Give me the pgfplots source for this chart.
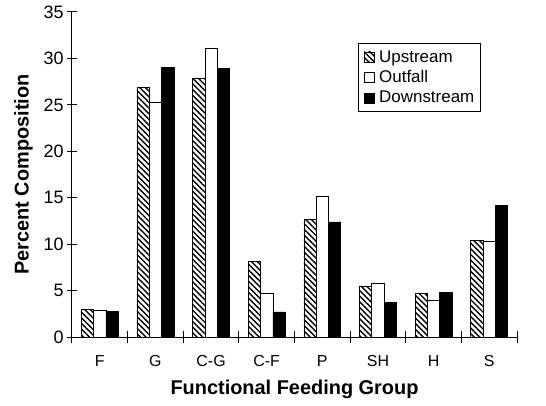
\documentclass[border=0pt]{standalone}
\usepackage{pgfplots}
\pgfplotsset{compat=1.18}
\usetikzlibrary{patterns.meta}
\usepackage{fontspec}
\setmainfont{Liberation Sans}
\pgfplotstableread{
x up out down
0 3.0 2.9 2.8
1 26.9 25.3 29.0
2 27.9 31.1 28.9
3 8.1 4.7 2.7
4 12.7 15.2 12.4
5 5.5 5.8 3.7
6 4.7 4.0 4.8
7 10.4 10.3 14.2
}\data
\begin{document}
\begin{tikzpicture}
\useasboundingbox (-72bp,-69bp) rectangle (474bp,337bp);
\begin{axis}[
  at={(0,0)}, anchor=south west,
  scale only axis, width=445bp, height=325bp,
  ybar=0pt, bar width=12.3bp,
  xmin=-0.5, xmax=7.5, ymin=0, ymax=35,
  axis x line=bottom, axis y line=left,
  axis line style={-, line width=1bp},
  xtick={0,...,7},
  xticklabels={F,G,C-G,C-F,P,SH,H,S},
  minor xtick={-0.5,0.5,...,7.5},
  ytick={0,5,...,35},
  tick align=center,
  major x tick style={draw=none},
  major tick length=10bp, minor tick length=12bp,
  tick style={line width=1bp, black},
  /pgf/number format/assume math mode=true,
  xticklabel style={font=\fontsize{16}{18}\selectfont, yshift=-10bp},
  yticklabel style={font=\fontsize{18}{20}\selectfont},
  xlabel={\textbf{Functional Feeding Group}},
  ylabel={\textbf{Percent Composition}},
  label style={font=\fontsize{20}{24}\selectfont},
  xlabel style={yshift=-6bp},
  ylabel style={yshift=4bp},
  legend style={at={(0.643,0.905)}, anchor=north west, draw=black, line width=1bp,
    font=\fontsize{17}{19}\selectfont, row sep=5bp, inner xsep=5bp, inner ysep=6bp,
    cells={anchor=west}, nodes={inner xsep=1bp, inner ysep=1bp},
    /tikz/every odd column/.style={column sep=4bp}},
  legend image code/.code={\draw[#1, line width=0.6bp] (0bp,-5bp) rectangle (10bp,5bp);},
]
\addplot[draw=black, line width=0.6bp, pattern={Lines[angle=-45, distance=4bp, line width=1.4bp]}] table[x=x,y=up] {\data};
\addplot[draw=black, line width=0.6bp, fill=white] table[x=x,y=out] {\data};
\addplot[draw=black, line width=0.6bp, fill=black] table[x=x,y=down] {\data};
\legend{Upstream,Outfall,Downstream}
\end{axis}
\end{tikzpicture}
\end{document}
